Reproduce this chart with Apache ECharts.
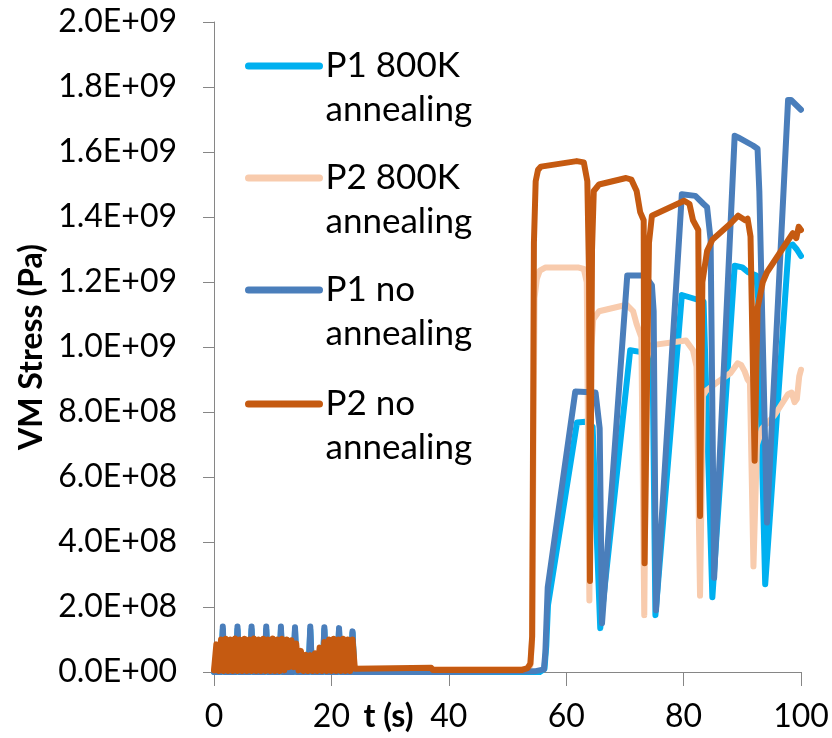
<!DOCTYPE html>
<html>
<head>
<meta charset="utf-8">
<script src="https://cdn.jsdelivr.net/npm/echarts@6.0.0/dist/echarts.min.js"></script>
<style>
  html, body { margin: 0; padding: 0; background: #ffffff; }
  #chart { width: 832px; height: 738px; }
</style>
</head>
<body>
<div id="chart"></div>
<script>
// Von Mises stress histories: [time (s), stress in units of 1E+08 Pa]

const p1Annealed = [
  [0, 0], [1.2, 0], [1.5, 1.3], [1.8, 0], [3.7, 0], [4.0, 1.3], [4.3, 0],
  [6.1, 0], [6.4, 1.3], [6.7, 0], [8.6, 0], [8.9, 1.3], [9.2, 0],
  [11.1, 0], [11.4, 1.3], [11.7, 0], [13.5, 0], [13.8, 1.3], [14.1, 0],
  [16.1, 0], [16.4, 1.3], [16.7, 0], [18.5, 0], [18.8, 1.3], [19.1, 0],
  [21.0, 0], [21.3, 1.3], [21.6, 0], [23.3, 0], [23.6, 1.2], [23.9, 0],
  [40.0, 0], [55.5, 0], [56.3, 0.1], [56.6, 0.8], [56.9, 2.06],
  [61.84, 7.68], [63.3, 7.7], [64.5, 7.55], [65.8, 1.35],
  [70.9, 9.9], [72.6, 9.85], [74.7, 9.85], [75.2, 1.75],
  [79.7, 11.6], [83.4, 11.4], [84.9, 2.3],
  [88.7, 12.5], [90.0, 12.45], [91.0, 12.3], [92.4, 12.2], [92.7, 11.5], [93.9, 2.7],
  [97.9, 13.1], [98.6, 13.15], [99.3, 13.0], [100, 12.8]
];

const p2Annealed = [
  [0, 0.03], [0.8, 0.85], [1.6, 0.03], [2.4, 0.88], [3.2, 0.03], [4.0, 0.88],
  [4.8, 0.03], [5.6, 0.88], [6.4, 0.03], [7.2, 0.88], [8.0, 0.03], [8.8, 0.88],
  [9.6, 0.03], [10.4, 0.88], [11.2, 0.03], [12.0, 0.85], [12.8, 0.15], [13.6, 0.8],
  [14.4, 0.05], [15.2, 0.45], [16.0, 0.03], [16.8, 0.45], [17.6, 0.03], [18.4, 0.7],
  [19.2, 0.03], [20.0, 0.88], [20.8, 0.03], [21.6, 0.88], [22.4, 0.03], [23.2, 0.88],
  [24.0, 0.08], [53.4, 0.1], [53.9, 0.2], [54.2, 1.0], [54.6, 11.5], [55.0, 12.1],
  [55.5, 12.35], [56.5, 12.45], [62.0, 12.45], [63.0, 12.4], [63.5, 12.0], [63.95, 2.2],
  [64.3, 10.0], [64.6, 10.85], [65.6, 11.1], [70.3, 11.3], [71.4, 11.1], [72.0, 10.7],
  [72.8, 10.3], [73.3, 1.75],
  [73.7, 9.6], [74.3, 10.05], [80.4, 10.2], [81.6, 9.9], [82.2, 9.4], [82.8, 2.35],
  [83.3, 8.5], [83.8, 8.65], [86.0, 8.95], [88.0, 9.2], [89.2, 9.5], [89.8, 9.45],
  [90.4, 9.25], [90.9, 9.0], [91.3, 8.9], [91.9, 3.25],
  [92.5, 7.0], [93.4, 7.5], [95.5, 7.9], [97.8, 8.55], [98.4, 8.6], [98.9, 8.3],
  [99.3, 8.4], [99.7, 9.1], [100, 9.3]
];

const p1Plain = [
  [0, 0], [1.2, 0], [1.5, 1.4], [1.8, 0], [3.7, 0], [4.0, 1.4], [4.3, 0],
  [6.1, 0], [6.4, 1.4], [6.7, 0], [8.6, 0], [8.9, 1.4], [9.2, 0],
  [11.1, 0], [11.4, 1.4], [11.7, 0], [13.5, 0], [13.8, 1.38], [14.1, 0],
  [16.1, 0], [16.4, 1.4], [16.7, 0], [18.5, 0], [18.8, 1.38], [19.1, 0],
  [21.0, 0], [21.3, 1.35], [21.6, 0], [23.3, 0], [23.6, 1.25], [23.9, 0],
  [40.0, 0], [54.6, 0.02], [56.2, 0.08], [56.45, 0.6], [56.85, 2.6],
  [61.55, 8.63], [65.0, 8.6], [65.7, 7.5], [66.1, 1.5],
  [70.4, 12.2], [73.5, 12.2], [73.8, 12.1], [74.6, 11.9], [74.9, 11.1], [75.3, 1.9],
  [79.7, 14.7], [82.0, 14.65], [83.4, 14.4], [84.0, 14.3], [84.6, 13.3], [85.2, 2.9],
  [88.7, 16.5], [89.3, 16.45], [91.8, 16.2], [92.6, 16.1], [92.9, 14.8], [94.2, 4.6],
  [97.8, 17.6], [98.3, 17.6], [100, 17.3]
];

const p2Plain = [
  [0, 0.05], [0.4, 0.85], [0.8, 0.03], [1.2, 1.0], [1.6, 0.03], [2.0, 1.02],
  [2.4, 0.03], [2.8, 1.0], [3.2, 0.03], [3.6, 1.03], [4.0, 0.03], [4.4, 1.0],
  [4.8, 0.03], [5.2, 1.02], [5.6, 0.03], [6.0, 1.0], [6.4, 0.03], [6.8, 1.03],
  [7.2, 0.03], [7.6, 1.0], [8.0, 0.03], [8.4, 1.02], [8.8, 0.03], [9.2, 1.0],
  [9.6, 0.03], [10.0, 1.03], [10.4, 0.03], [10.8, 1.0], [11.2, 0.03], [11.6, 1.02],
  [12.0, 0.05], [12.4, 1.0], [12.8, 0.15], [13.2, 0.98], [13.6, 0.15], [14.0, 0.88],
  [14.4, 0.05], [14.8, 0.65], [15.2, 0.03], [15.6, 0.53], [16.0, 0.03], [16.4, 0.52],
  [16.8, 0.03], [17.2, 0.58], [17.6, 0.03], [18.0, 0.75], [18.4, 0.03], [18.8, 0.92],
  [19.2, 0.03], [19.6, 1.0], [20.0, 0.03], [20.4, 1.02], [20.8, 0.03], [21.2, 1.0],
  [21.6, 0.03], [22.0, 1.02], [22.4, 0.03], [22.8, 1.0], [23.2, 0.03], [23.6, 1.0],
  [24.0, 0.1], [24.2, 0.13], [37.0, 0.13], [37.3, 0.06], [52.4, 0.06], [53.4, 0.12],
  [53.9, 0.26], [54.2, 1.1], [54.5, 13.2], [54.8, 15.1], [55.2, 15.45], [55.7, 15.55],
  [61.8, 15.72], [63.0, 15.68], [63.6, 15.1], [63.9, 12.1], [64.05, 2.8],
  [64.4, 13.0], [64.7, 14.8], [65.6, 15.0], [70.2, 15.2], [71.1, 15.15], [72.0, 14.8],
  [72.6, 14.15], [73.2, 13.9], [73.35, 3.35],
  [74.1, 13.2], [74.6, 14.04], [80.1, 14.5], [81.0, 14.4], [81.6, 13.9], [82.5, 13.6], [82.8, 4.8],
  [83.2, 12.0], [84.0, 12.95], [84.9, 13.3], [88.0, 13.8], [89.3, 14.04], [90.5, 13.9],
  [90.9, 13.95], [91.4, 13.4], [92.1, 6.5],
  [92.6, 11.2], [93.5, 12.0], [94.2, 12.3], [98.6, 13.5], [99.2, 13.35], [99.6, 13.7], [100, 13.6]
];

const seriesNames = ['P1 800K annealing', 'P2 800K annealing', 'P1 no annealing', 'P2 no annealing'];
const seriesData = [p1Annealed, p2Annealed, p1Plain, p2Plain];
const seriesColors = ['#00B0F0', '#F8CBAD', '#4A7EBB', '#C55A11'];
const legendTops = [0, 112, 224, 338];

const xMin = 0, xMax = 100, xStep = 20;
const yMin = 0, yMax = 2.0e9, yStep = 2.0e8;
const UNIT = 1e8;

const FONT = 'Lato, "Open Sans", sans-serif';

function sciLabel(v) {
  if (v === 0) return '0.0E+00';
  const e = Math.floor(Math.log10(v) + 1e-9);
  const m = v / Math.pow(10, e);
  return m.toFixed(1) + 'E+' + String(e).padStart(2, '0');
}

const chart = echarts.init(document.getElementById('chart'), null, { renderer: 'canvas' });

const option = {
  animation: false,
  backgroundColor: '#ffffff',
  grid: {
    left: 214, right: 31, top: 22, bottom: 66,
    containLabel: false,
    outerBoundsMode: 'none'
  },
  xAxis: {
    type: 'value',
    min: xMin, max: xMax, interval: xStep,
    name: 't (s)',
    nameLocation: 'middle',
    nameGap: 29,
    nameMoveOverlap: false,
    nameTextStyle: {
      fontFamily: FONT, fontSize: 32, fontWeight: 'bold', color: '#000',
      padding: [0, 238, 0, 0]
    },
    axisLine: { show: true, onZero: false, lineStyle: { color: '#868686', width: 1 } },
    axisTick: { show: true, length: 14, lineStyle: { color: '#868686' } },
    axisLabel: { fontFamily: FONT, fontSize: 32, color: '#000', margin: 29 },
    splitLine: { show: false }
  },
  yAxis: {
    type: 'value',
    min: yMin, max: yMax, interval: yStep,
    name: 'VM Stress (Pa)',
    nameLocation: 'middle',
    nameGap: 166,
    nameMoveOverlap: false,
    nameTextStyle: { fontFamily: FONT, fontSize: 32, fontWeight: 'bold', color: '#000' },
    axisLine: { show: true, lineStyle: { color: '#868686', width: 1 } },
    axisTick: { show: true, length: 11, lineStyle: { color: '#868686' } },
    axisLabel: { fontFamily: FONT, fontSize: 32, color: '#000', margin: 37, formatter: sciLabel },
    splitLine: { show: false }
  },
  legend: seriesNames.map((name, i) => ({
    data: [name],
    left: 245,
    top: legendTops[i],
    orient: 'vertical',
    padding: 0,
    selectedMode: false,
    itemWidth: 71,
    itemHeight: 7,
    lineStyle: { width: 7, cap: 'round' },
    formatter: n => '\n' + n.replace(' annealing', '\nannealing'),
    textStyle: {
      fontFamily: FONT, fontSize: 35, lineHeight: 44, color: '#000',
      padding: [0, 0, 0, 1]
    }
  })),
  series: seriesNames.map((name, i) => ({
    name: name,
    type: 'line',
    data: seriesData[i].map(([t, v]) => [t, v * UNIT]),
    symbol: 'none',
    showSymbol: false,
    clip: false,
    color: seriesColors[i],
    lineStyle: { color: seriesColors[i], width: 6, cap: 'round', join: 'round' },
    z: 2 + i
  }))
};

chart.setOption(option);
</script>
</body>
</html>
